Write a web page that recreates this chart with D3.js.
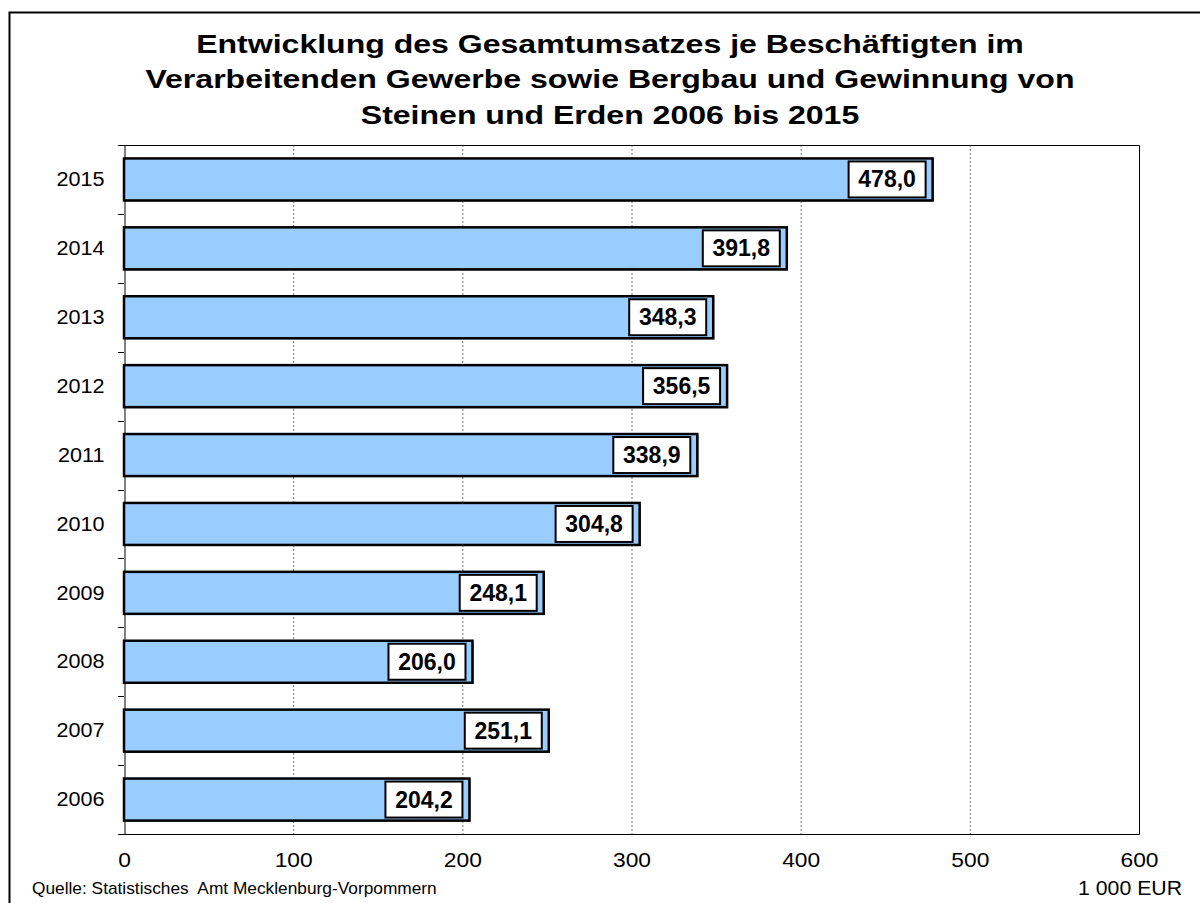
<!DOCTYPE html>
<html><head><meta charset="utf-8">
<script src="https://cdn.jsdelivr.net/npm/d3@7"></script>
<style>body{margin:0;background:#fff}svg{display:block}text{font-family:"Liberation Sans",Arial,sans-serif;white-space:pre}</style>
</head><body><svg id="c" width="1200" height="903"></svg>
<script>
const years = ["2015","2014","2013","2012","2011","2010","2009","2008","2007","2006"];
const values = [478.0, 391.8, 348.3, 356.5, 338.9, 304.8, 248.1, 206.0, 251.1, 204.2];
const xTicks = [0,100,200,300,400,500,600];
const titleLines = ["Entwicklung des Gesamtumsatzes je Beschäftigten im","Verarbeitenden Gewerbe sowie Bergbau und Gewinnung von","Steinen und Erden 2006 bis 2015"];
const sourceText = "Quelle: Statistisches  Amt Mecklenburg-Vorpommern";
const unitText = "1 000 EUR";

const svg = d3.select("#c");
const L=124, R=1139, T=145, B=834;
const x = d3.scaleLinear().domain([0,600]).range([L,R]);
const y = d3.scaleBand().domain(years).range([T,B]).paddingInner(0.39).paddingOuter(0.195);
const yb = d3.scaleBand().domain(years).range([T,B]);

// horizontal stretch helper: scales text horizontally about anchor ax so its width becomes target
function fitWidth(node, ax, target){
  const w = node.getComputedTextLength();
  const s = target / w;
  d3.select(node).attr("transform", `translate(${ax},0) scale(${s},1) translate(${-ax},0)`);
  return s;
}

// outer frame
svg.append("rect").attr("x",9.5).attr("y",12.5).attr("width",1300).attr("height",1000).attr("fill","none").attr("stroke","#000").attr("stroke-width",2);

// title
const tl = svg.append("g").selectAll("text").data(titleLines).join("text")
  .attr("x",610).attr("y",(d,i)=>53+i*35.5).attr("text-anchor","middle")
  .attr("font-size",26.5).attr("font-weight","bold").text(d=>d);
const ts = 828 / tl.node().getComputedTextLength();
tl.attr("transform",`translate(610,0) scale(${ts},1) translate(-610,0)`);

// gridlines
svg.append("g").selectAll("line").data(xTicks.filter(t=>t>0&&t<600)).join("line")
  .attr("x1",d=>x(d)+0.5).attr("x2",d=>x(d)+0.5).attr("y1",T).attr("y2",B)
  .attr("stroke","#777").attr("stroke-width",1).attr("stroke-dasharray","2,2");

// plot frame top/right/bottom
svg.append("path").attr("d",`M${L-6},${T+0.5}H${R+0.5}V${B+0.5}H${L}`).attr("fill","none").attr("stroke","#000").attr("stroke-width",1);

// y axis
const ya = d3.axisLeft(yb).tickSize(0).tickPadding(0);
svg.append("g").attr("transform",`translate(${L+0.5},0)`).call(ya)
  .call(g=>g.select(".domain").attr("stroke","#000"))
  .call(g=>g.selectAll("text").attr("font-size",21).attr("fill","#000").attr("x",0)
     .attr("font-family","Liberation Sans, Arial, sans-serif")
     .attr("transform","translate(-20,0) scale(1.03,1)"));
// category boundary ticks
svg.append("g").selectAll("line").data(years).join("line")
  .attr("x1",L-6).attr("x2",L).attr("y1",d=>Math.round(yb(d)+yb.bandwidth())+0.5).attr("y2",d=>Math.round(yb(d)+yb.bandwidth())+0.5)
  .attr("stroke","#000");

// x axis labels
const xa = d3.axisBottom(x).tickValues(xTicks).tickSize(0).tickPadding(20).tickFormat(d3.format("d"));
svg.append("g").attr("transform",`translate(0,${B})`).call(xa)
  .call(g=>g.select(".domain").remove())
  .call(g=>g.selectAll("text").attr("font-size",20).attr("fill","#000").attr("dy","0.65em")
     .attr("font-family","Liberation Sans, Arial, sans-serif").attr("transform","scale(1.14,1)"));

// bars
const bars = svg.append("g");
bars.selectAll("rect.shadow").data(values).join("rect").attr("class","shadow")
  .attr("x",x(0)+1).attr("y",(d,i)=>y(years[i])+1).attr("width",d=>x(d)-x(0)).attr("height",y.bandwidth())
  .attr("fill","#333");
bars.selectAll("rect.bar").data(values).join("rect").attr("class","bar")
  .attr("x",x(0)).attr("y",(d,i)=>y(years[i])).attr("width",d=>x(d)-x(0)).attr("height",y.bandwidth())
  .attr("fill","#99ccff").attr("stroke","#000").attr("stroke-width",2.5);

// labels
const fmt = v => v.toFixed(1).replace(".",",");
const lab = svg.append("g");
values.forEach((v,i)=>{
  const cy = y(years[i])+y.bandwidth()/2;
  const w=77, h=36, xr = x(v)-7;
  lab.append("rect").attr("x",xr-w).attr("y",cy-h/2).attr("width",w).attr("height",h)
    .attr("fill","#fff").attr("stroke","#000").attr("stroke-width",2);
  lab.append("text").attr("x",xr-w/2).attr("y",cy+8).attr("text-anchor","middle")
    .attr("font-size",23).attr("font-weight","bold").text(fmt(v));
});

// footer
const src = svg.append("text").attr("x",32).attr("y",894).attr("font-size",16).text(sourceText);
fitWidth(src.node(), 32, 405);
const unit = svg.append("text").attr("x",1182).attr("y",895).attr("text-anchor","end").attr("font-size",20).text(unitText);
fitWidth(unit.node(), 1182, 104);
</script></body></html>
